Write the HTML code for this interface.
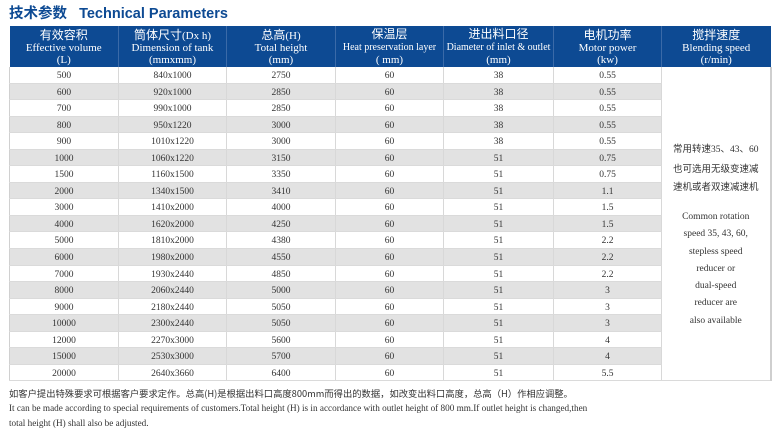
<!DOCTYPE html>
<html><head><meta charset="utf-8"><style>
body{margin:0;width:780px;height:439px;background:#fff;position:relative;overflow:hidden;font-family:"Liberation Serif","Noto Serif CJK SC",serif;color:#333}
.title{position:absolute;left:9px;top:2px;font-family:"Liberation Sans","Noto Sans CJK SC",sans-serif;font-weight:bold;font-size:14.5px;color:#0d4a93;white-space:nowrap}
table{position:absolute;left:9px;top:26px;width:761px;border-collapse:collapse;table-layout:fixed}
th{background:#0d4a93;color:#fff;font-weight:normal;height:41px;padding:0;border-right:1px solid #3a6aa8;font-size:11px;line-height:12px;vertical-align:middle}
th .c{font-family:"Noto Sans CJK SC",sans-serif;font-size:12px;line-height:13px}
td{height:11.55px;padding:4px 0 0 0;font-size:9.5px;text-align:center;border-right:1px solid #d8d8d8;border-bottom:1px solid #dadada;line-height:11px;vertical-align:top}
tr.g td.d{background:#e2e2e2}
td.last{background:#fff;border-right:2px solid #cfcfcf;vertical-align:top;font-size:9.5px;padding:0}
td:first-child{border-left:1px solid #d0d0d0}
.note{position:absolute;left:9px;white-space:nowrap;font-size:9px;color:#333}
.cn{font-family:"Noto Sans CJK SC",sans-serif}
</style></head><body>
<div class="title">技术参数&nbsp;&nbsp; Technical Parameters</div>
<table>
<colgroup><col style="width:109px"><col style="width:108px"><col style="width:109px"><col style="width:108px"><col style="width:110px"><col style="width:108px"><col style="width:109px"></colgroup>
<tr><th><span class="c">有效容积</span><br>Effective volume<br>(L)</th><th><span class="c">筒体尺寸</span>(Dx h)<br>Dimension of tank<br>(mmxmm)</th><th><span class="c">总高</span>(H)<br>Total height<br>(mm)</th><th><span class="c">保温层</span><br><span style="font-size:10px">Heat preservation layer</span><br>( mm)</th><th><span class="c">进出料口径</span><br><span style="font-size:10px">Diameter of inlet &amp; outlet</span><br>(mm)</th><th><span class="c">电机功率</span><br>Motor power<br>(kw)</th><th style="border-right:none"><span class="c">搅拌速度</span><br>Blending speed<br>(r/min)</th></tr>
<tr><td class="d">500</td><td class="d">840x1000</td><td class="d">2750</td><td class="d">60</td><td class="d">38</td><td class="d">0.55</td><td class="last" rowspan="19"><div style="height:72px"></div><div class="cn" style="font-size:9.5px;line-height:18px">常用转速<span style="font-family:'Liberation Serif',serif">35、43、60</span><br>也可选用无级变速减<br>速机或者双速减速机</div><div style="height:14px"></div><div style="line-height:17.3px;font-size:9.5px">Common rotation<br>speed 35, 43, 60,<br>stepless speed<br>reducer or<br>dual-speed<br>reducer are<br>also available</div></td></tr>
<tr class="g"><td class="d">600</td><td class="d">920x1000</td><td class="d">2850</td><td class="d">60</td><td class="d">38</td><td class="d">0.55</td></tr>
<tr><td class="d">700</td><td class="d">990x1000</td><td class="d">2850</td><td class="d">60</td><td class="d">38</td><td class="d">0.55</td></tr>
<tr class="g"><td class="d">800</td><td class="d">950x1220</td><td class="d">3000</td><td class="d">60</td><td class="d">38</td><td class="d">0.55</td></tr>
<tr><td class="d">900</td><td class="d">1010x1220</td><td class="d">3000</td><td class="d">60</td><td class="d">38</td><td class="d">0.55</td></tr>
<tr class="g"><td class="d">1000</td><td class="d">1060x1220</td><td class="d">3150</td><td class="d">60</td><td class="d">51</td><td class="d">0.75</td></tr>
<tr><td class="d">1500</td><td class="d">1160x1500</td><td class="d">3350</td><td class="d">60</td><td class="d">51</td><td class="d">0.75</td></tr>
<tr class="g"><td class="d">2000</td><td class="d">1340x1500</td><td class="d">3410</td><td class="d">60</td><td class="d">51</td><td class="d">1.1</td></tr>
<tr><td class="d">3000</td><td class="d">1410x2000</td><td class="d">4000</td><td class="d">60</td><td class="d">51</td><td class="d">1.5</td></tr>
<tr class="g"><td class="d">4000</td><td class="d">1620x2000</td><td class="d">4250</td><td class="d">60</td><td class="d">51</td><td class="d">1.5</td></tr>
<tr><td class="d">5000</td><td class="d">1810x2000</td><td class="d">4380</td><td class="d">60</td><td class="d">51</td><td class="d">2.2</td></tr>
<tr class="g"><td class="d">6000</td><td class="d">1980x2000</td><td class="d">4550</td><td class="d">60</td><td class="d">51</td><td class="d">2.2</td></tr>
<tr><td class="d">7000</td><td class="d">1930x2440</td><td class="d">4850</td><td class="d">60</td><td class="d">51</td><td class="d">2.2</td></tr>
<tr class="g"><td class="d">8000</td><td class="d">2060x2440</td><td class="d">5000</td><td class="d">60</td><td class="d">51</td><td class="d">3</td></tr>
<tr><td class="d">9000</td><td class="d">2180x2440</td><td class="d">5050</td><td class="d">60</td><td class="d">51</td><td class="d">3</td></tr>
<tr class="g"><td class="d">10000</td><td class="d">2300x2440</td><td class="d">5050</td><td class="d">60</td><td class="d">51</td><td class="d">3</td></tr>
<tr><td class="d">12000</td><td class="d">2270x3000</td><td class="d">5600</td><td class="d">60</td><td class="d">51</td><td class="d">4</td></tr>
<tr class="g"><td class="d">15000</td><td class="d">2530x3000</td><td class="d">5700</td><td class="d">60</td><td class="d">51</td><td class="d">4</td></tr>
<tr><td class="d">20000</td><td class="d">2640x3660</td><td class="d">6400</td><td class="d">60</td><td class="d">51</td><td class="d">5.5</td></tr>
</table>
<div class="note cn" style="top:386px;font-size:9.3px">如客户提出特殊要求可根据客户要求定作。总高(H)是根据出料口高度800mm而得出的数据，如改变出料口高度，总高（H）作相应调整。</div>
<div class="note" style="top:403px;font-size:9.2px">It can be made according to special requirements of customers.Total height (H) is in accordance with outlet height of 800 mm.If outlet height is changed,then</div>
<div class="note" style="top:418px;font-size:9.2px">total height (H) shall also be adjusted.</div>
</body></html>
